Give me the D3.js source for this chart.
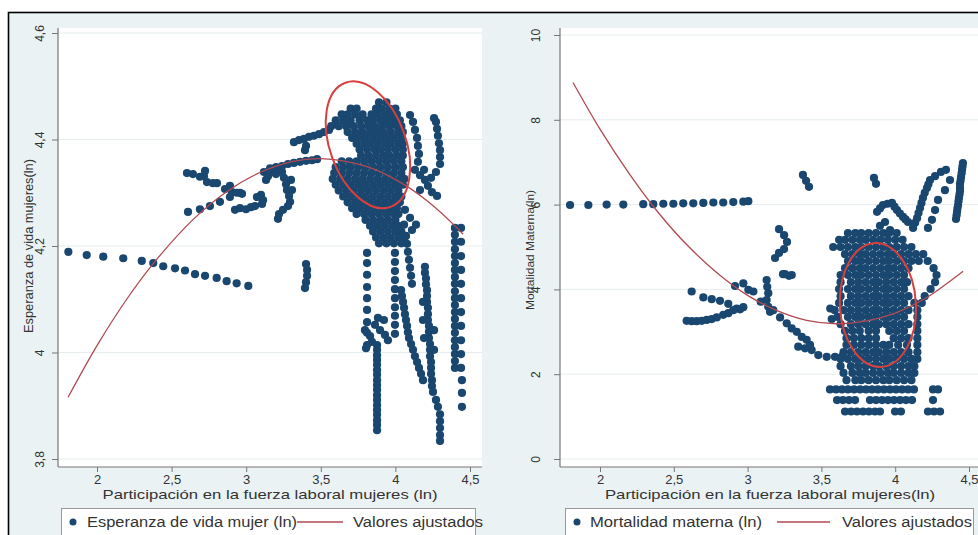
<!DOCTYPE html>
<html>
<head>
<meta charset="utf-8">
<script src="https://cdn.jsdelivr.net/npm/d3@7"></script>
<style>
  body { margin: 0; background: #fff; }
  svg { display: block; font-family: "Liberation Sans", Arial, sans-serif; }
</style>
</head>
<body>
<script>
// dimensions
var width = 978;
var height = 535;

// ---------- data: left panel (esperanza de vida, ln) ----------
var espXTicks = [2, 2.5, 3, 3.5, 4, 4.5];
var espYTicks = [3.8, 4, 4.2, 4.4, 4.6];

// long declining line of points on the left
var espDeclive = [[1.808,4.189],[1.931,4.183],[2.042,4.180],[2.176,4.177],[2.300,4.172],[2.377,4.168],[2.444,4.162],[2.523,4.158],[2.590,4.154],[2.657,4.147],[2.724,4.144],[2.802,4.140],[2.869,4.134],[2.936,4.130],[3.014,4.125]];

// scattered groups between 2.5 and 3.6
var espMedio = [
  [2.603,4.337],[2.643,4.335],[2.690,4.330],[2.717,4.331],[2.724,4.341],[2.737,4.320],[2.777,4.318],[2.804,4.318],
  [2.610,4.264],[2.690,4.269],[2.757,4.275],[2.824,4.283],[2.891,4.292],[2.958,4.300],
  [2.858,4.307],[2.891,4.313],[2.905,4.301],[2.938,4.300],[2.972,4.298],
  [2.925,4.268],[2.958,4.271],[2.999,4.269],[3.032,4.273],[3.059,4.275],
  [3.072,4.292],[3.099,4.296],[3.113,4.286],[3.106,4.279],
  [3.119,4.339],[3.146,4.331],[3.173,4.339],[3.133,4.324],[3.200,4.335],[3.240,4.339],[3.253,4.328],[3.267,4.316],
  [3.273,4.305],[3.287,4.294],[3.294,4.283],[3.280,4.275],[3.247,4.268],[3.220,4.260],[3.213,4.251],[3.307,4.305],[3.300,4.324],
  [3.160,4.346],[3.200,4.348],[3.240,4.350],[3.280,4.354],[3.320,4.356],[3.361,4.358],[3.401,4.360],[3.441,4.361],[3.475,4.363],
  [3.320,4.395],[3.354,4.399],[3.387,4.401],[3.421,4.405],[3.454,4.407],[3.488,4.410],[3.521,4.414],[3.555,4.418],[3.401,4.388],[3.394,4.380],
  [3.401,4.166],[3.408,4.155],[3.408,4.144],[3.401,4.132],[3.394,4.121]
];

// dense core, one row per y value
var espNucleo = [
  [4.470, [3.89, 3.94]],
  [4.458, [3.70, 3.74, 3.87, 3.91, 3.96, 4.00]],
  [4.447, [3.64, 3.68, 3.73, 3.78, 3.84, 3.88, 3.93, 3.97, 4.01]],
  [4.436, [3.60, 3.65, 3.70, 3.76, 3.81, 3.85, 3.90, 3.94, 3.99, 4.03]],
  [4.425, [3.57, 3.62, 3.67, 3.72, 3.77, 3.82, 3.86, 3.91, 3.96, 4.01, 4.04]],
  [4.414, [3.68, 3.73, 3.78, 3.83, 3.88, 3.92, 3.97, 4.02, 4.05]],
  [4.403, [3.71, 3.76, 3.80, 3.85, 3.90, 3.95, 3.99, 4.04]],
  [4.392, [3.74, 3.79, 3.83, 3.88, 3.93, 3.97, 4.02, 4.05]],
  [4.381, [3.76, 3.81, 3.86, 3.90, 3.95, 4.00, 4.05]],
  [4.370, [3.77, 3.82, 3.87, 3.92, 3.96, 4.01, 4.05]],
  [4.359, [3.64, 3.69, 3.74, 3.79, 3.84, 3.89, 3.94, 3.99, 4.04]],
  [4.348, [3.60, 3.65, 3.70, 3.75, 3.80, 3.85, 3.90, 3.95, 4.00, 4.05]],
  [4.337, [3.59, 3.64, 3.69, 3.74, 3.79, 3.84, 3.89, 3.94, 3.99, 4.04]],
  [4.326, [3.58, 3.63, 3.68, 3.73, 3.78, 3.83, 3.88, 3.93, 3.98, 4.03, 4.06]],
  [4.315, [3.60, 3.65, 3.70, 3.75, 3.80, 3.85, 3.90, 3.95, 4.00, 4.05]],
  [4.304, [3.62, 3.67, 3.72, 3.77, 3.82, 3.87, 3.92, 3.97, 4.02]],
  [4.293, [3.65, 3.70, 3.75, 3.80, 3.85, 3.90, 3.95, 4.00, 4.04]],
  [4.282, [3.68, 3.73, 3.78, 3.83, 3.88, 3.93, 3.98, 4.03]],
  [4.271, [3.71, 3.76, 3.81, 3.86, 3.91, 3.96, 4.01]],
  [4.260, [3.74, 3.79, 3.84, 3.89, 3.94, 3.99, 4.02]],
  [4.249, [3.80, 3.85, 3.90, 3.95, 4.00]],
  [4.238, [3.83, 3.88, 3.93, 3.98, 4.02]],
  [4.227, [3.85, 3.90, 3.95, 4.00, 4.04]],
  [4.216, [3.87, 3.92, 3.97, 4.02, 4.06]],
  [4.205, [3.89, 3.94, 3.99, 4.04]]
];

// points right of the core and the vertical trails below it
var espDerecha = [
  [4.098,4.446],[4.118,4.433],[4.131,4.418],[4.145,4.403],[4.151,4.388],[4.158,4.373],[4.151,4.358],
  [4.259,4.440],[4.272,4.433],[4.279,4.420],[4.285,4.407],[4.292,4.393],[4.299,4.380],[4.299,4.367],[4.299,4.354],
  [4.131,4.343],[4.165,4.333],[4.198,4.324],[4.239,4.328],[4.272,4.339],[4.218,4.313],[4.245,4.301],[4.165,4.305],[4.279,4.294],[4.192,4.343],
  [4.064,4.268],[4.098,4.253],[4.058,4.240],[4.111,4.230],[4.138,4.240],
  [4.071,4.219],[4.078,4.204],[4.084,4.189],[4.091,4.174],[4.098,4.159],[4.105,4.144],[4.111,4.129],
  [3.796,4.042],[3.830,4.031],[3.863,4.052],[3.897,4.042],[3.930,4.033],[3.950,4.023],[3.883,4.065],[3.843,4.020],[3.803,4.008],[3.923,4.061],
  [4.038,4.117],[4.044,4.106],[4.051,4.095],[4.058,4.084],[4.064,4.072],[4.071,4.061],[4.078,4.050],[4.084,4.038],
  [4.091,4.027],[4.105,4.016],[4.118,4.005],[4.131,3.993],[4.145,3.982],[4.158,3.971],[4.172,3.960],[4.185,3.948],
  [4.198,4.161],[4.198,4.150],[4.205,4.139],[4.205,4.128],[4.212,4.117],[4.212,4.106],[4.212,4.095],[4.218,4.084],
  [4.218,4.072],[4.218,4.061],[4.225,4.050],[4.225,4.039],[4.225,4.027],[4.232,4.016],[4.232,4.005],[4.232,3.993],
  [4.239,3.982],[4.239,3.971],[4.239,3.960],[4.245,3.948],[4.245,3.937],[4.252,3.926],
  [4.185,4.095],[4.185,4.061],[4.259,4.042],[4.259,4.005],[4.192,4.027],
  [4.272,3.911],[4.285,3.898],[4.299,3.884],[4.299,3.871],[4.299,3.858],[4.299,3.845],[4.299,3.834],
  [4.446,3.948],[4.446,3.924],[4.446,3.898]
];

// vertical columns, one entry per x value
var espColumnas = [
  [3.810, [4.187, 4.168, 4.146, 4.123, 4.102, 4.080, 4.057, 4.037, 4.014]],
  [3.877, [4.014, 4.005, 3.995, 3.986, 3.977, 3.967, 3.958, 3.948, 3.939, 3.930, 3.920, 3.911, 3.901, 3.892, 3.883, 3.873, 3.864, 3.854]],
  [3.997, [4.187, 4.170, 4.153, 4.136, 4.119, 4.102, 4.085, 4.069, 4.052, 4.035]],
  [4.399, [4.234, 4.221, 4.208, 4.194, 4.181, 4.168, 4.155, 4.142, 4.129, 4.115, 4.102, 4.089, 4.076, 4.063, 4.050, 4.037, 4.023, 4.010, 3.997, 3.984, 3.971]],
  [4.440, [4.234, 4.208, 4.181, 4.155, 4.129, 4.102, 4.076, 4.050, 4.023, 3.997, 3.971]]
];

// fitted quadratic (valores ajustados)
var espAjuste = [[1.806,3.916],[2.0,4.013],[2.199,4.100],[2.377,4.167],[2.645,4.250],[2.869,4.302],[3.092,4.338],[3.314,4.359],[3.5,4.364],[3.81,4.349],[4.031,4.320],[4.212,4.285],[4.413,4.234],[4.453,4.222]];
var espElipse = {cx: 3.816, cy: 4.390, rx: 38, ry: 66, angle: -20};

// ---------- data: right panel (mortalidad materna, ln) ----------
var morXTicks = [2, 2.5, 3, 3.5, 4, 4.5];
var morYTicks = [0, 2, 4, 6, 8, 10];

var morHorizontal = [[1.797,5.99],[1.921,5.99],[2.045,6.00],[2.158,6.00],[2.293,6.01],[2.361,6.01],[2.429,6.02],[2.497,6.02],[2.564,6.03],[2.632,6.03],[2.700,6.04],[2.768,6.05],[2.835,6.05],[2.903,6.06],[2.971,6.07],[3.005,6.08]];

var morMedio = [
  [2.621,3.95],[2.700,3.81],[2.757,3.77],[2.813,3.73],[2.869,3.66],[2.926,3.55],
  [2.587,3.26],[2.621,3.25],[2.655,3.25],[2.689,3.26],[2.723,3.28],[2.757,3.30],[2.791,3.34],[2.835,3.40],[2.869,3.44],
  [2.949,3.53],[2.971,3.58],[2.903,3.51],
  [2.915,4.08],[2.971,4.14],[3.005,3.99],[3.039,3.95],
  [3.129,4.22],[3.133,4.06],[3.140,3.91],[3.129,3.75],[3.140,3.59],[3.089,3.71],[3.152,3.47],
  [3.240,4.36],[3.281,4.32],[3.253,4.36],[3.299,4.34],
  [3.213,5.42],[3.247,5.28],[3.267,5.12],[3.247,4.95],[3.213,4.86],[3.186,4.74],
  [3.375,6.70],[3.396,6.56],[3.416,6.42],[3.856,6.63],[3.870,6.49],
  [3.174,3.51],[3.220,3.34],[3.265,3.20],[3.299,3.08],[3.333,3.00],[3.367,2.88],[3.400,2.81],[3.423,2.69],
  [3.434,2.57],[3.479,2.45],[3.536,2.41],[3.592,2.41],[3.638,2.41],[3.389,2.61],[3.343,2.65],
  [3.56,3.55],[3.57,3.30]
];

var morArriba = [
  [3.877,5.83],[3.917,5.99],[3.978,6.04],[4.012,5.87],[4.053,5.71],[4.087,5.59],[3.931,5.59],[3.965,5.40],[3.897,5.50],
  [3.897,5.91],[3.948,6.02],[3.995,5.95],[4.032,5.79],[4.070,5.65],
  [4.121,5.45],[4.148,5.68],[4.168,5.92],[4.188,6.16],[4.215,6.39],[4.236,6.58],[4.270,6.67],[4.310,6.77],[4.344,6.82],
  [4.135,5.57],[4.158,5.80],[4.178,6.04],[4.200,6.28],[4.225,6.48],
  [4.459,6.98],[4.453,6.82],[4.446,6.65],[4.439,6.49],[4.439,6.32],[4.432,6.16],[4.426,5.99],[4.419,5.83],[4.412,5.66],
  [4.456,6.90],[4.450,6.74],[4.443,6.57],[4.439,6.40],[4.436,6.24],[4.429,6.08],[4.422,5.91],[4.416,5.75],
  [4.290,6.11],[4.270,5.87],[4.249,5.64],[4.222,5.45],[4.337,6.34],[4.371,6.58]
];

var morNucleo = [
  [5.33, [3.68, 3.73, 3.77, 3.82, 3.87, 3.92, 3.96, 4.01]],
  [5.17, [3.62, 3.66, 3.71, 3.76, 3.80, 3.85, 3.90, 3.95, 4.00, 4.05]],
  [5.00, [3.58, 3.63, 3.68, 3.73, 3.77, 3.82, 3.87, 3.92, 3.96, 4.01, 4.06, 4.11]],
  [4.83, [3.66, 3.71, 3.76, 3.80, 3.85, 3.90, 3.95, 3.99, 4.04, 4.09, 4.14, 4.19]],
  [4.67, [3.68, 3.73, 3.77, 3.82, 3.87, 3.92, 3.96, 4.01, 4.06, 4.11, 4.16, 4.22]],
  [4.50, [3.66, 3.71, 3.76, 3.80, 3.85, 3.90, 3.95, 3.99, 4.04, 4.09, 4.26]],
  [4.34, [3.63, 3.68, 3.73, 3.77, 3.82, 3.87, 3.92, 3.96, 4.01, 4.06, 4.28]],
  [4.17, [3.63, 3.70, 3.75, 3.80, 3.85, 3.89, 3.94, 3.99, 4.04, 4.08, 4.27]],
  [4.01, [3.62, 3.68, 3.73, 3.77, 3.82, 3.87, 3.92, 3.96, 4.01, 4.06, 4.24]],
  [3.84, [3.63, 3.70, 3.75, 3.80, 3.85, 3.89, 3.94, 3.99, 4.04, 4.09, 4.20]],
  [3.68, [3.62, 3.68, 3.73, 3.77, 3.82, 3.87, 3.92, 3.96, 4.01, 4.06, 4.13, 4.18]],
  [3.51, [3.59, 3.65, 3.70, 3.75, 3.80, 3.85, 3.89, 3.94, 3.99, 4.04, 4.09, 4.15]],
  [3.35, [3.61, 3.68, 3.73, 3.77, 3.82, 3.87, 3.92, 3.96, 4.01, 4.06, 4.15]],
  [3.18, [3.63, 3.70, 3.75, 3.80, 3.85, 3.89, 3.94, 3.99, 4.04, 4.09, 4.15]],
  [3.02, [3.66, 3.71, 3.76, 3.82, 3.87, 3.96, 4.01, 4.06, 4.15]],
  [2.85, [3.67, 3.72, 3.77, 3.82, 3.87, 3.99, 4.04, 4.09, 4.15]],
  [2.69, [3.67, 3.72, 3.77, 3.82, 3.87, 3.92, 3.96, 4.02, 4.08, 4.15]],
  [2.52, [3.65, 3.70, 3.75, 3.80, 3.85, 3.89, 3.94, 3.99, 4.04, 4.09, 4.15]],
  [2.36, [3.63, 3.68, 3.73, 3.77, 3.82, 3.87, 3.92, 3.96, 4.01, 4.06, 4.11, 4.15]],
  [2.19, [3.63, 3.70, 3.75, 3.80, 3.85, 3.89, 3.94, 3.99, 4.04, 4.09, 4.13]],
  [2.03, [3.65, 3.71, 3.76, 3.80, 3.85, 3.90, 3.95, 3.99, 4.04, 4.09, 4.13]],
  [1.86, [3.67, 3.73, 3.77, 3.82, 3.87, 3.92, 3.96, 4.01, 4.06, 4.11]],
  [1.64, [3.558, 3.599, 3.640, 3.680, 3.721, 3.762, 3.802, 3.843, 3.883, 3.924, 3.965, 4.005, 4.046, 4.087, 4.127, 4.256, 4.290]],
  [1.39, [3.606, 3.646, 3.687, 3.728, 3.829, 3.870, 3.911, 3.951, 3.992, 4.033, 4.073, 4.114, 4.256]],
  [1.12, [3.660, 3.701, 3.741, 3.782, 3.822, 3.863, 3.897, 3.999, 4.039, 4.222, 4.263, 4.304]]
];

var morAjuste = [[1.817,8.88],[2.0,7.78],[2.2,6.72],[2.4,5.79],[2.6,5.01],[2.8,4.37],[3.0,3.86],[3.2,3.50],[3.4,3.27],[3.6,3.19],[3.8,3.25],[4.0,3.44],[4.2,3.78],[4.46,4.43]];
var morElipse = {cx: 3.883, cy: 3.632, rx: 38, ry: 62, angle: -3};

// legend labels
var leyendaEsp = ["Esperanza de vida mujer (ln)", "Valores ajustados"];
var leyendaMor = ["Mortalidad materna (ln)", "Valores ajustados"];

// turn row / column tables into [x, y] pairs
function fromRows(rows) {
  return rows.flatMap(function(r) { return r[1].map(function(x) { return [x, r[0]]; }); });
}
function fromCols(cols) {
  return cols.flatMap(function(c) { return c[1].map(function(y) { return [c[0], y]; }); });
}

var navy = "#1a476f";
var maroon = "#b04a52";
var fmt = function(d) { return String(d).replace(".", ","); };

var svg = d3.select("body")
  .append("svg")
  .attr("width", width)
  .attr("height", height);

// graph region with black frame (bottom / right fall outside the picture)
svg.append("rect")
  .attr("x", 8.5).attr("y", 12.5)
  .attr("width", 1000).attr("height", 600)
  .attr("fill", "#eaf2f3")
  .attr("stroke", "#000")
  .attr("stroke-width", 1.6);

function drawPanel(cfg) {
  var g = svg.append("g");
  var top = 28, bottom = 467;

  // white plot region
  g.append("rect")
    .attr("x", cfg.left).attr("y", top)
    .attr("width", cfg.right - cfg.left).attr("height", bottom - top)
    .attr("fill", "#fff");

  // faint grid
  g.selectAll(".grid").data(cfg.yTicks).enter().append("line")
    .attr("x1", cfg.left).attr("x2", cfg.right)
    .attr("y1", function(d) { return cfg.y(d); })
    .attr("y2", function(d) { return cfg.y(d); })
    .attr("stroke", "#e6edef").attr("stroke-width", 1);

  // axis lines across the whole plot region
  g.append("line").attr("x1", cfg.left).attr("x2", cfg.right).attr("y1", bottom).attr("y2", bottom)
    .attr("stroke", "#777").attr("stroke-width", 1.2);
  g.append("line").attr("x1", cfg.left).attr("x2", cfg.left).attr("y1", top).attr("y2", bottom)
    .attr("stroke", "#777").attr("stroke-width", 1.2);

  var xa = g.append("g")
    .attr("transform", "translate(0," + bottom + ")")
    .call(d3.axisBottom(cfg.x).tickValues(cfg.xTicks).tickFormat(fmt).tickSize(5).tickPadding(3));
  xa.select(".domain").remove();
  xa.selectAll("line").attr("stroke", "#777");
  xa.selectAll("text").attr("font-size", 13).attr("font-family", "Liberation Sans, Arial, sans-serif").attr("fill", "#333");

  var ya = g.append("g")
    .attr("transform", "translate(" + cfg.left + ",0)")
    .call(d3.axisLeft(cfg.y).tickValues(cfg.yTicks).tickFormat(fmt).tickSize(6));
  ya.select(".domain").remove();
  ya.selectAll("line").attr("stroke", "#777");
  ya.selectAll("text")
    .attr("x", null).attr("dy", null).attr("y", 0)
    .attr("text-anchor", "middle")
    .attr("transform", "translate(" + (-cfg.labelOff) + ",0) rotate(-90)")
    .attr("font-size", 12).attr("font-family", "Liberation Sans, Arial, sans-serif").attr("fill", "#333");

  // axis titles
  g.append("text")
    .attr("x", cfg.xTitle[0]).attr("y", 499)
    .attr("text-anchor", "middle")
    .attr("font-size", 13.5).attr("fill", "#333")
    .attr("textLength", cfg.xTitle[1]).attr("lengthAdjust", "spacingAndGlyphs")
    .text(cfg.xTitleText);
  g.append("text")
    .attr("transform", "translate(" + cfg.yTitle[0] + "," + cfg.yTitle[1] + ") rotate(-90)")
    .attr("text-anchor", "middle")
    .attr("font-size", cfg.yTitle[3]).attr("fill", "#333")
    .attr("textLength", cfg.yTitle[2]).attr("lengthAdjust", "spacingAndGlyphs")
    .text(cfg.yTitleText);

  // scatter points
  g.selectAll(".pt").data(cfg.points).enter().append("circle")
    .attr("cx", function(d) { return cfg.x(d[0]); })
    .attr("cy", function(d) { return cfg.y(d[1]); })
    .attr("r", 4.1)
    .attr("fill", navy);

  // fitted values
  var line = d3.line()
    .x(function(d) { return cfg.x(d[0]); })
    .y(function(d) { return cfg.y(d[1]); })
    .curve(d3.curveCatmullRom);
  g.append("path").datum(cfg.fit)
    .attr("d", line)
    .attr("fill", "none")
    .attr("stroke", maroon)
    .attr("stroke-width", 1.3);

  // highlight ellipse
  var ex = cfg.x(cfg.ellipse.cx), ey = cfg.y(cfg.ellipse.cy);
  g.append("ellipse")
    .attr("cx", ex).attr("cy", ey)
    .attr("rx", cfg.ellipse.rx).attr("ry", cfg.ellipse.ry)
    .attr("transform", "rotate(" + cfg.ellipse.angle + "," + ex + "," + ey + ")")
    .attr("fill", "none")
    .attr("stroke", "#d8403f")
    .attr("stroke-width", 2);

  // legend
  var L = cfg.legend;
  g.append("rect")
    .attr("x", L.box[0] + 0.5).attr("y", 508.5)
    .attr("width", L.box[1]).attr("height", 40)
    .attr("fill", "#fff").attr("stroke", "#999");
  g.append("circle").attr("cx", L.dot).attr("cy", 522).attr("r", 3.5).attr("fill", navy);
  g.append("text").attr("x", L.t1[0]).attr("y", 527)
    .attr("font-size", 14).attr("fill", "#333")
    .attr("textLength", L.t1[1]).attr("lengthAdjust", "spacingAndGlyphs")
    .text(L.labels[0]);
  g.append("line").attr("x1", L.line[0]).attr("x2", L.line[1]).attr("y1", 522).attr("y2", 522)
    .attr("stroke", maroon).attr("stroke-width", 1.3);
  g.append("text").attr("x", L.t2[0]).attr("y", 527)
    .attr("font-size", 14).attr("fill", "#333")
    .attr("textLength", L.t2[1]).attr("lengthAdjust", "spacingAndGlyphs")
    .text(L.labels[1]);
}

// left panel
drawPanel({
  left: 58, right: 482,
  x: d3.scaleLinear().domain([2, 4.5]).range([97, 470]),
  y: d3.scaleLinear().domain([3.8, 4.6]).range([459, 33]),
  xTicks: espXTicks, yTicks: espYTicks,
  labelOff: 14,
  xTitleText: "Participación en la fuerza laboral mujeres (ln)",
  xTitle: [270, 335],
  yTitleText: "Esperanza de vida mujeres(ln)",
  yTitle: [33, 246, 174, 12.5],
  points: espDeclive.concat(espMedio, fromRows(espNucleo), espDerecha, fromCols(espColumnas)),
  fit: espAjuste,
  ellipse: espElipse,
  legend: {box: [61, 414], dot: 73, t1: [87, 210], line: [297, 343], t2: [353, 130], labels: leyendaEsp}
});

// right panel
drawPanel({
  left: 560, right: 990,
  x: d3.scaleLinear().domain([2, 4.5]).range([600, 969]),
  y: d3.scaleLinear().domain([0, 10]).range([459, 35]),
  xTicks: morXTicks, yTicks: morYTicks,
  labelOff: 20,
  xTitleText: "Participación en la fuerza laboral mujeres(ln)",
  xTitle: [770, 330],
  yTitleText: "Mortalidad Materna(ln)",
  yTitle: [534, 250, 120, 11.5],
  points: morHorizontal.concat(morMedio, morArriba, fromRows(morNucleo)),
  fit: morAjuste,
  ellipse: morElipse,
  legend: {box: [565, 408], dot: 577, t1: [590, 172], line: [777, 830], t2: [842, 130], labels: leyendaMor}
});
</script>
</body>
</html>
